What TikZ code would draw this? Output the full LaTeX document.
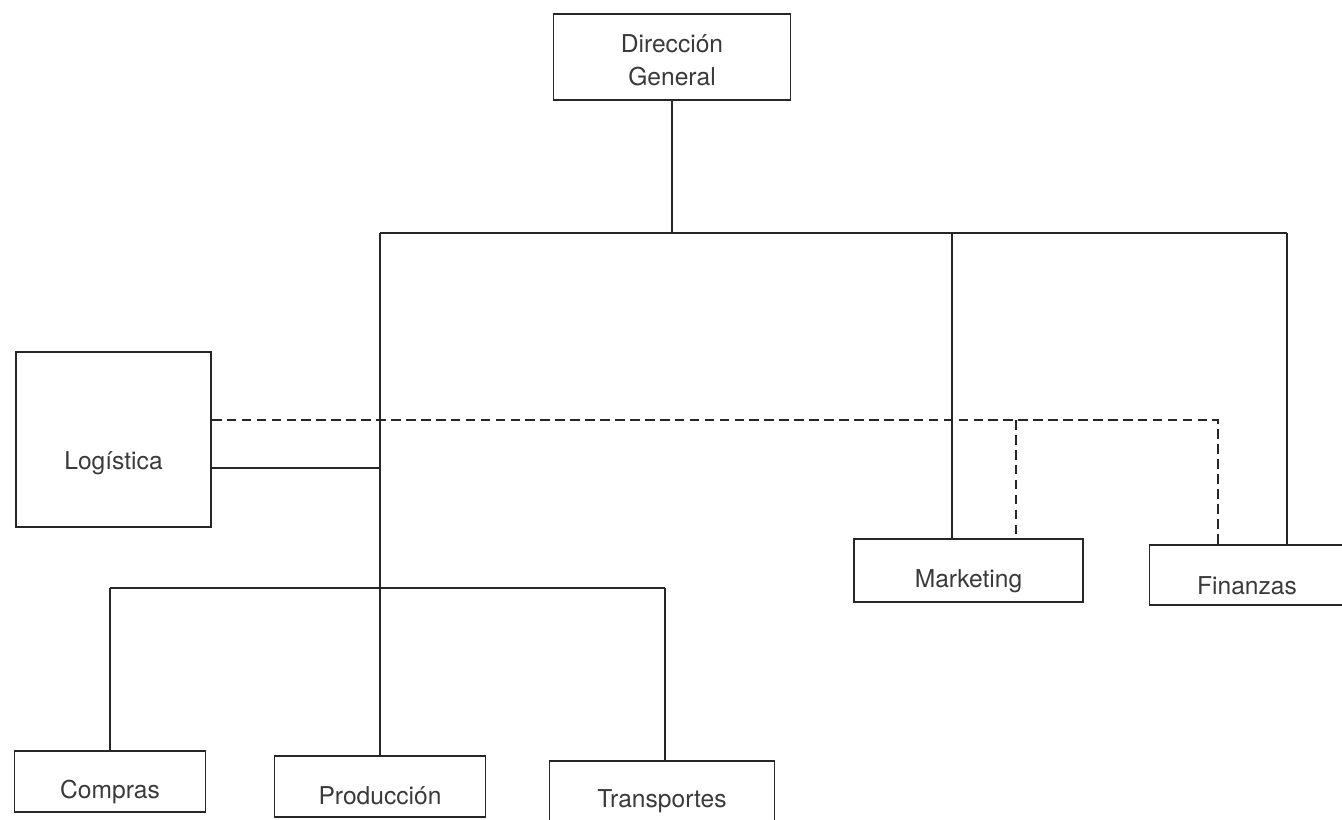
\documentclass[tikz,border=0pt]{standalone}
\usepackage{fontspec}
\setmainfont{TeX Gyre Heros}
\definecolor{ink}{HTML}{262626}
\definecolor{txt}{HTML}{3A3A3A}
% set a label lower inside its box without changing the box size
\newcommand\lowered[2]{\raisebox{-#1}[\height][\depth]{#2}}
\begin{document}
\begin{tikzpicture}[x=0.02cm,y=-0.02cm,
  unit/.style={draw=ink,line width=1pt,fill=white,inner sep=0pt,
    font=\fontsize{14}{19}\selectfont,text=txt,align=center},
  link/.style={draw=ink,line width=1pt},
  dotlink/.style={draw=ink,line width=1pt,dash pattern=on 5.5pt off 3pt}]
\useasboundingbox (0,0) rectangle (1342,819);
\fill[white] (0,0) rectangle (1342,819);

% organisational units
\node[unit,minimum width=4.74cm,minimum height=1.72cm] (dg) at (672,57) {\lowered{2pt}{Dirección}\\\lowered{2pt}{General}};
\node[unit,minimum width=3.9cm,minimum height=3.5cm] (log) at (113.5,439.5) {\lowered{13.5pt}{Logística}};
\node[unit,minimum width=4.58cm,minimum height=1.26cm] (mkt) at (968.5,570.5) {\lowered{6pt}{Marketing}};
\node[unit,minimum width=3.9cm,minimum height=1.2cm] (fin) at (1247,575) {\lowered{6pt}{Finanzas}};
\node[unit,minimum width=3.82cm,minimum height=1.22cm] (com) at (110,781.5) {\lowered{6pt}{Compras}};
\node[unit,minimum width=4.22cm,minimum height=1.22cm] (pro) at (380,786.5) {\lowered{5pt}{Producción}};
\node[unit,minimum width=4.5cm,minimum height=1.2cm] (tra) at (662,791) {\lowered{6pt}{Transportes}};

% junction points
\coordinate (barL) at (380,233);
\coordinate (barR) at (1287,233);
\coordinate (barM) at (952,233);
\coordinate (lj)   at (380,468);
\coordinate (bL)   at (110,588);
\coordinate (bR)   at (665,588);
\coordinate (dM)   at (1016,420);
\coordinate (dR)   at (1218,420);
\coordinate (dL)   at (0,420);

% line authority
\draw[link] (dg.south) -- (dg.south |- barL);
\draw[link] (barL) -- (barR);
\draw[link] (barL) -- (pro.north);
\draw[link] (barM) -- (barM |- mkt.north);
\draw[link] (barR) -- (barR |- fin.north);
\draw[link] (lj -| log.east) -- (lj);
\draw[link] (bL) -- (bR);
\draw[link] (bL) -- (bL |- com.north);
\draw[link] (bR) -- (bR |- tra.north);

% functional relations
\draw[dotlink] (dL -| log.east) -- (dR) -- (dR |- fin.north);
\draw[dotlink] (dM) -- (dM |- mkt.north);
\end{tikzpicture}
\end{document}
